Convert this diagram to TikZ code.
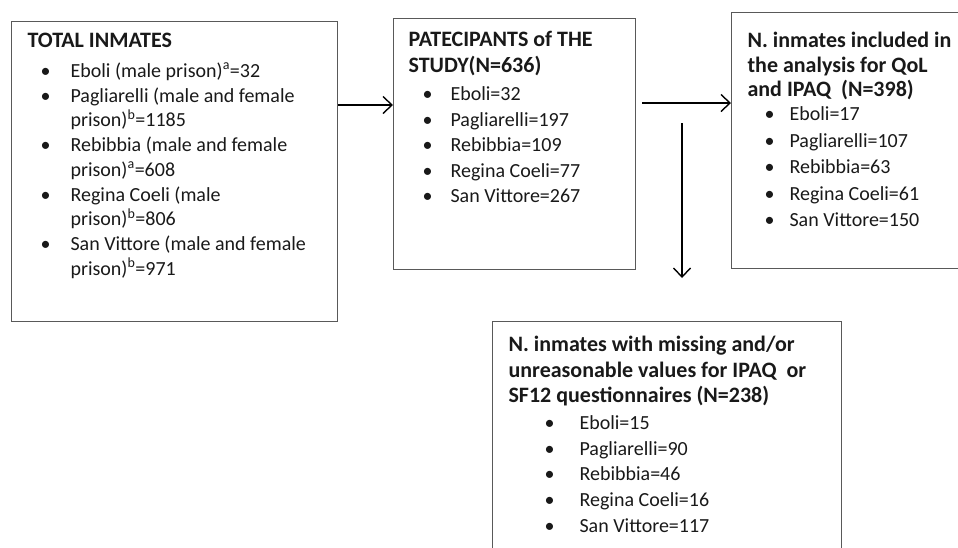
\documentclass[tikz,border=0pt]{standalone}
\usepackage{fontspec}
\setmainfont{Carlito}
\usetikzlibrary{arrows.meta}

\newdimen\bulloff
\newdimen\txtoff
\newcommand{\ttl}[2]{{\fontsize{22}{#1}\selectfont\bfseries #2\par}}
\newcommand{\itm}[1]{\par\hangindent=\txtoff\hangafter=1\noindent
  \hbox to \txtoff{\hskip\bulloff\textbullet\hfil}#1}
\newcommand{\boxtext}[4]{\parbox[t][#2][t]{#1}{\rule{0pt}{#3}#4}}

\begin{document}
\begin{tikzpicture}[x=1pt,y=-1pt]
    \tikzstyle{every node}=[font=\fontsize{20}{25}\selectfont, text=black!90]
    \tikzstyle{box}=[draw=black!65, line width=1.1pt, anchor=north west, inner ysep=0pt]
    \tikzstyle{flow}=[line width=1.4pt, -{Straight Barb[length=9pt,width=17pt,line width=1.4pt]}]
    \useasboundingbox (0,0) rectangle (958,547);
    \node[box, inner xsep=16pt] (total) at (11,21) {\boxtext{294pt}{300pt}{26pt}{%
      \bulloff=13pt \txtoff=43pt
      \ttl{25}{TOTAL INMATES}\vspace{5pt}
      \fontsize{20}{24.75}\selectfont
      \itm{Eboli (male prison)\textsuperscript{a}=32}
      \itm{Pagliarelli (male and female\\prison)\textsuperscript{b}=1185}
      \itm{Rebibbia (male and female\\prison)\textsuperscript{a}=608}
      \itm{Regina Coeli (male\\prison)\textsuperscript{b}=806}
      \itm{San Vittore (male and female\\prison)\textsuperscript{b}=971}\par}};
    \node[box, inner xsep=15pt] (part) at (393,18) {\boxtext{212pt}{251pt}{28pt}{%
      \bulloff=14pt \txtoff=42pt
      \ttl{26}{PATECIPANTS of THE\\STUDY(N=636)}\vspace{2.5pt}
      \fontsize{20}{25.5}\selectfont
      \itm{Eboli=32}
      \itm{Pagliarelli=197}
      \itm{Rebibbia=109}
      \itm{Regina Coeli=77}
      \itm{San Vittore=267}\par}};
    \node[box, inner xsep=16pt] (incl) at (731,12) {\boxtext{230pt}{256pt}{35pt}{%
      \bulloff=17pt \txtoff=42pt
      \ttl{24.5}{N. inmates included in\\the analysis for QoL\\and IPAQ\ \ (N=398)}\vspace{-2.5pt}
      \fontsize{20}{26.5}\selectfont
      \itm{Eboli=17}
      \itm{Pagliarelli=107}
      \itm{Rebibbia=63}
      \itm{Regina Coeli=61}
      \itm{San Vittore=150}\par}};
    \node[box, inner xsep=16pt] (miss) at (492,321) {\boxtext{317pt}{240pt}{30pt}{%
      \bulloff=36pt \txtoff=71pt
      \ttl{25.5}{N. inmates with missing and/or\\unreasonable values for IPAQ\ \ or\\SF12 questionnaires (N=238)}\vspace{1.3pt}
      \fontsize{20}{25.7}\selectfont
      \itm{Eboli=15}
      \itm{Pagliarelli=90}
      \itm{Rebibbia=46}
      \itm{Regina Coeli=16}
      \itm{San Vittore=117}\par}};
    \coordinate (a1) at (0,105);
    \coordinate (a2) at (642,103);
    \coordinate (a3) at (682,123);
    \coordinate (a4) at (682,278);
    \draw[flow] (total.east |- a1) to (part.west |- a1);
    \draw[flow] (a2) to (incl.west |- a2);
    \draw[flow] (a3) to (a4);
\end{tikzpicture}
\end{document}
